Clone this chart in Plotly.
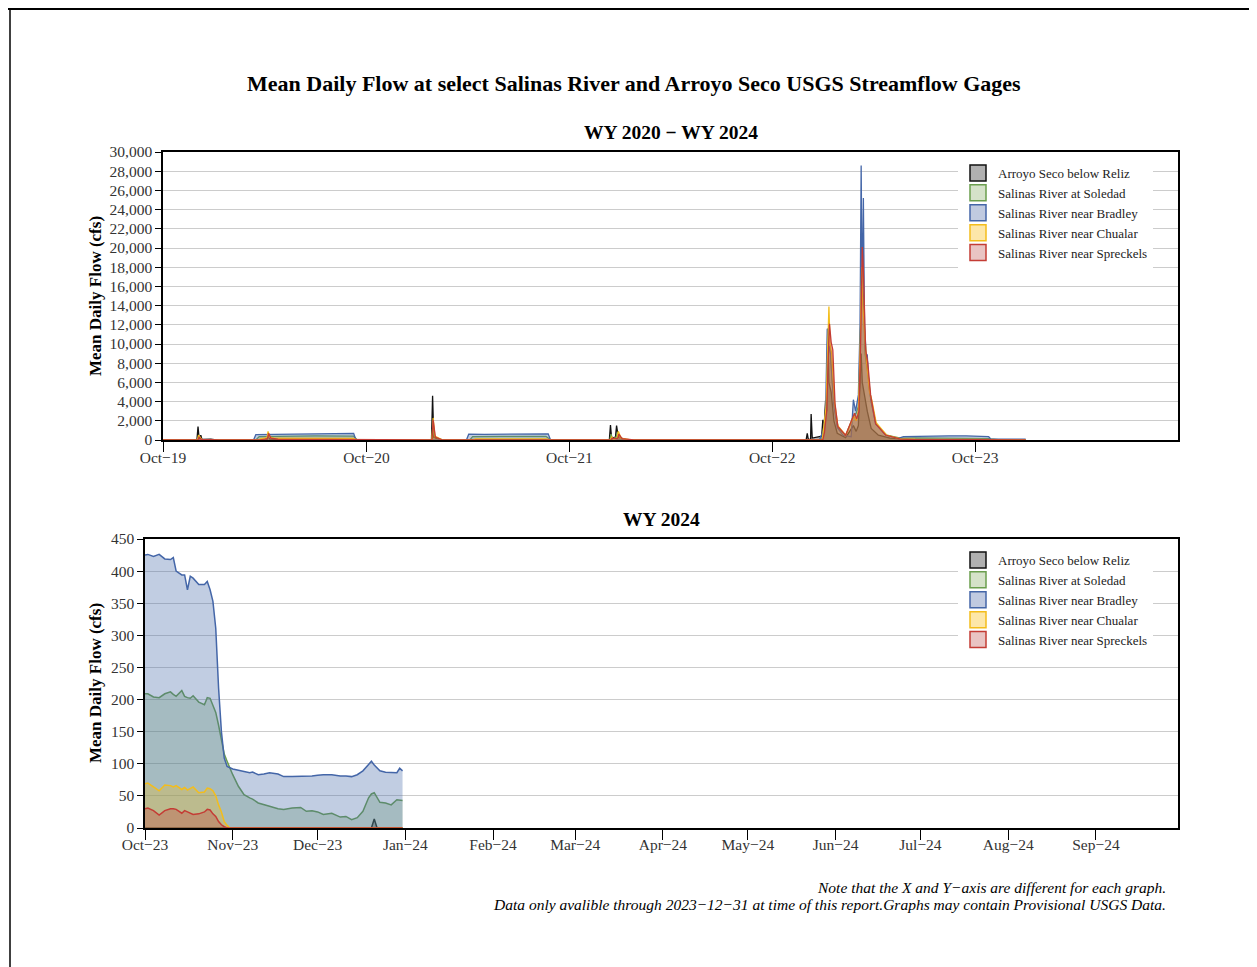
import plotly.graph_objects as go

# page is shown with the browser's 8px body margin, so the figure is 8px smaller
PAGE_W, PAGE_H = 1257, 967
OFFSET = 8
W, H = PAGE_W - OFFSET, PAGE_H - OFFSET

# ---- WY 2020 - WY 2023 (sparse readings, cfs) ----
ARROYO_DATES = ["2019-10-01", "2019-12-01", "2019-12-03", "2019-12-05", "2019-12-08", "2019-12-10",
                "2019-12-26", "2020-01-05", "2020-04-05", "2020-04-07", "2020-04-10", "2020-05-01",
                "2021-01-26", "2021-01-28", "2021-01-30", "2021-02-10", "2021-12-12", "2021-12-14",
                "2021-12-16", "2021-12-23", "2021-12-25", "2021-12-28", "2022-01-10", "2022-12-01",
                "2022-12-03", "2022-12-05", "2022-12-09", "2022-12-10", "2022-12-12", "2022-12-29",
                "2022-12-31", "2023-01-02", "2023-01-05", "2023-01-07", "2023-01-09", "2023-01-11",
                "2023-01-15", "2023-01-20", "2023-01-26", "2023-02-10", "2023-02-24", "2023-03-01",
                "2023-03-05", "2023-03-10", "2023-03-12", "2023-03-15", "2023-03-21", "2023-03-28",
                "2023-04-10", "2023-05-01", "2023-06-01", "2023-09-30"]
ARROYO_CFS = [0, 5, 1400, 150, 500, 60,
              100, 20, 20, 600, 100, 20,
              10, 4600, 300, 30, 20, 1550,
              200, 300, 1500, 300, 30, 5,
              700, 50, 100, 2700, 200, 400,
              2100, 1000, 4100, 3000, 11600, 6000,
              5000, 2000, 700, 250, 1500, 900,
              1500, 9000, 6000, 5000, 3000, 1200,
              500, 200, 80, 0]

SOLEDAD_DATES = ["2019-10-01", "2020-03-16", "2020-03-22", "2020-05-01", "2020-07-01", "2020-09-08",
                 "2020-09-14", "2021-01-26", "2021-01-28", "2021-01-31", "2021-02-15", "2021-04-05",
                 "2021-04-10", "2021-06-01", "2021-08-20", "2021-08-28", "2021-12-13", "2021-12-15",
                 "2021-12-18", "2021-12-24", "2021-12-27", "2021-12-31", "2022-01-15", "2022-12-29",
                 "2023-01-01", "2023-01-06", "2023-01-10", "2023-01-13", "2023-01-17", "2023-01-22",
                 "2023-01-28", "2023-02-10", "2023-02-24", "2023-03-01", "2023-03-05", "2023-03-11",
                 "2023-03-14", "2023-03-17", "2023-03-22", "2023-03-28", "2023-04-06", "2023-04-25",
                 "2023-05-20", "2023-06-15", "2023-08-15", "2023-09-30"]
SOLEDAD_CFS = [10, 10, 350, 380, 420, 400,
               20, 10, 1200, 300, 20, 20,
               350, 380, 380, 20, 10, 600,
               100, 300, 800, 150, 20, 20,
               800, 3000, 10000, 9500, 6000, 3000,
               1200, 450, 2500, 2800, 3500, 16000,
               15000, 9000, 7000, 4000, 1600, 500,
               200, 220, 210, 210]

BRADLEY_DATES = ["2019-10-01", "2020-03-12", "2020-03-16", "2020-04-01", "2020-05-15", "2020-06-15",
                 "2020-07-15", "2020-08-15", "2020-09-08", "2020-09-12", "2020-09-25", "2021-03-30",
                 "2021-04-03", "2021-05-01", "2021-06-01", "2021-07-01", "2021-08-01", "2021-08-24",
                 "2021-08-28", "2022-12-25", "2023-01-01", "2023-01-05", "2023-01-08", "2023-01-10",
                 "2023-01-13", "2023-01-16", "2023-01-20", "2023-01-26", "2023-02-05", "2023-02-20",
                 "2023-02-24", "2023-02-28", "2023-03-02", "2023-03-05", "2023-03-08", "2023-03-10",
                 "2023-03-12", "2023-03-14", "2023-03-16", "2023-03-19", "2023-03-21", "2023-03-24",
                 "2023-03-28", "2023-04-05", "2023-04-23", "2023-05-16", "2023-05-25", "2023-06-20",
                 "2023-07-15", "2023-08-15", "2023-09-15", "2023-09-30"]
BRADLEY_CFS = [15, 15, 550, 560, 600, 640,
               680, 700, 690, 40, 15, 15,
               600, 580, 600, 630, 650, 640,
               30, 20, 1000, 3000, 11600, 9000,
               9800, 7000, 3500, 1300, 500, 350,
               4200, 3000, 3600, 4700, 12000, 28600,
               14000, 25200, 12000, 9000, 8850, 5500,
               4000, 1700, 500, 170, 350, 400,
               430, 440, 440, 430]

CHUALAR_DATES = ["2019-10-01", "2019-12-02", "2019-12-04", "2019-12-07", "2019-12-10", "2020-01-10",
                 "2020-03-20", "2020-03-25", "2020-04-05", "2020-04-07", "2020-04-10", "2020-04-20",
                 "2020-09-08", "2020-09-14", "2021-01-27", "2021-01-29", "2021-02-01", "2021-02-15",
                 "2021-04-10", "2021-04-15", "2021-08-20", "2021-08-28", "2021-12-14", "2021-12-16",
                 "2021-12-20", "2021-12-26", "2021-12-28", "2022-01-02", "2022-01-20", "2022-12-30",
                 "2023-01-02", "2023-01-06", "2023-01-09", "2023-01-11", "2023-01-13", "2023-01-16",
                 "2023-01-21", "2023-01-27", "2023-02-10", "2023-02-25", "2023-03-01", "2023-03-05",
                 "2023-03-08", "2023-03-11", "2023-03-13", "2023-03-16", "2023-03-20", "2023-03-25",
                 "2023-03-29", "2023-04-06", "2023-04-25", "2023-05-20", "2023-06-15", "2023-09-30"]
CHUALAR_CFS = [0, 0, 500, 200, 30, 0,
               0, 150, 250, 900, 300, 180,
               170, 0, 0, 2300, 400, 0,
               0, 120, 120, 0, 0, 300,
               80, 200, 900, 200, 0, 0,
               1400, 3500, 10000, 13900, 10000, 9000,
               4000, 1500, 500, 2500, 2000, 3000,
               9000, 18000, 14000, 11000, 8000, 5000,
               4200, 1800, 500, 120, 80, 70]

SPRECKELS_DATES = ["2019-10-01", "2019-12-03", "2019-12-05", "2019-12-09", "2020-01-10", "2020-03-25",
                   "2020-04-01", "2020-04-06", "2020-04-08", "2020-04-12", "2020-04-25", "2020-09-08",
                   "2020-09-15", "2021-01-27", "2021-01-29", "2021-02-02", "2021-02-15", "2021-12-15",
                   "2021-12-17", "2021-12-27", "2021-12-29", "2022-01-04", "2022-01-25", "2022-12-31",
                   "2023-01-03", "2023-01-07", "2023-01-10", "2023-01-12", "2023-01-15", "2023-01-18",
                   "2023-01-22", "2023-01-27", "2023-02-10", "2023-02-26", "2023-03-02", "2023-03-06",
                   "2023-03-09", "2023-03-12", "2023-03-14", "2023-03-16", "2023-03-18", "2023-03-22",
                   "2023-03-27", "2023-04-05", "2023-04-23", "2023-05-20", "2023-06-15", "2023-09-30"]
SPRECKELS_CFS = [0, 0, 300, 50, 0, 0,
                 80, 150, 700, 200, 80, 60,
                 0, 0, 2100, 300, 0, 0,
                 200, 150, 600, 150, 0, 0,
                 800, 3000, 9000, 12100, 10200, 9400,
                 3800, 1400, 500, 2800, 2200, 3000,
                 10000, 20100, 17700, 12000, 9400, 8000,
                 4700, 1700, 520, 100, 40, 30]

# ---- WY 2024 (data through 2023-12-31, cfs) ----
WY24_DATES = ["2023-10-01", "2023-10-02", "2023-10-04", "2023-10-06", "2023-10-08", "2023-10-10",
              "2023-10-11", "2023-10-12", "2023-10-14", "2023-10-15", "2023-10-16", "2023-10-17",
              "2023-10-18", "2023-10-20", "2023-10-22", "2023-10-23", "2023-10-24", "2023-10-25",
              "2023-10-26", "2023-10-27", "2023-10-28", "2023-10-29", "2023-10-30", "2023-10-31",
              "2023-11-01", "2023-11-03", "2023-11-05", "2023-11-07", "2023-11-08", "2023-11-10",
              "2023-11-12", "2023-11-14", "2023-11-17", "2023-11-19", "2023-11-22", "2023-11-25",
              "2023-11-27", "2023-11-29", "2023-12-01", "2023-12-03", "2023-12-06", "2023-12-09",
              "2023-12-11", "2023-12-13", "2023-12-15", "2023-12-17", "2023-12-19", "2023-12-20",
              "2023-12-21", "2023-12-22", "2023-12-23", "2023-12-25", "2023-12-27", "2023-12-29",
              "2023-12-30", "2023-12-31"]
WY24_ARROYO = [0, 0, 0, 0, 0, 0, 0, 0, 0, 0, 0, 0, 0, 0, 0, 0, 0, 0, 0, 0, 0, 0, 0, 0,
               0, 0, 0, 0, 0, 0, 0, 0, 0, 0, 0, 0, 0, 0,
               0, 0, 0, 0, 0, 0, 0, 0, 0, 0, 14, 0, 0, 0, 0, 0, 0, 0]
WY24_SOLEDAD = [209, 209, 204, 203, 209, 212, 208, 205, 214, 205, 203, 202,
                206, 196, 192, 203, 202, 192, 180, 160, 135, 115, 104, 92,
                83, 65, 52, 47, 45, 39, 36, 34, 30, 29, 31, 32, 26, 27,
                25, 21, 23, 17, 18, 13, 16, 26, 47, 53, 55, 48, 40, 39, 36, 44, 43, 43]
WY24_BRADLEY = [425, 426, 423, 426, 419, 418, 421, 400, 394, 394, 371, 392,
                389, 379, 379, 384, 371, 353, 311, 218, 150, 109, 96, 94,
                92, 90, 88, 86, 87, 83, 84, 86, 84, 80, 80, 80, 80, 81,
                82, 83, 83, 81, 81, 80, 83, 89, 99, 104, 98, 93, 89, 87, 87, 86, 93, 89]
WY24_CHUALAR = [69, 70, 64, 58, 67, 66, 64, 66, 60, 63, 59, 61,
                64, 55, 56, 62, 61, 58, 50, 36, 25, 10, 4, 0,
                0, 0, 0, 0, 0, 0, 0, 0, 0, 0, 0, 0, 0, 0,
                0, 0, 0, 0, 0, 0, 0, 0, 0, 0, 0, 0, 0, 0, 0, 0, 0, 0]
WY24_SPRECKELS = [30, 31, 27, 20, 27, 30, 30, 29, 23, 27, 25, 23,
                  21, 22, 25, 29, 28, 22, 18, 10, 5, 2, 0, 0,
                  0, 0, 0, 0, 0, 0, 0, 0, 0, 0, 0, 0, 0, 0,
                  0, 0, 0, 0, 0, 0, 0, 0, 0, 0, 0, 0, 0, 0, 0, 0, 0, 0]

SERIF = "Liberation Serif, Times New Roman, serif"

# name, line colour, fill colour, legend swatch colour
STYLES = [
    ("Arroyo Seco below Reliz", "#111111", "rgba(0,0,0,0.30)", "#b0b0b0"),
    ("Salinas River at Soledad", "#6b9e4e", "rgba(107,158,78,0.28)", "#d5e2c9"),
    ("Salinas River near Bradley", "#4466a8", "rgba(68,102,168,0.33)", "#c0cae0"),
    ("Salinas River near Chualar", "#f3bd1c", "rgba(243,189,28,0.30)", "#fde7a9"),
    ("Salinas River near Spreckels", "#c43c35", "rgba(196,60,53,0.30)", "#e9c4c3"),
]


def px(x):
    # page pixel -> paper fraction
    return (x - OFFSET) / W


def py(y):
    return 1 - (y - OFFSET) / H


def series_data():
    top = [
        (ARROYO_DATES + WY24_DATES, ARROYO_CFS + WY24_ARROYO),
        (SOLEDAD_DATES + WY24_DATES, SOLEDAD_CFS + WY24_SOLEDAD),
        (BRADLEY_DATES + WY24_DATES, BRADLEY_CFS + WY24_BRADLEY),
        (CHUALAR_DATES + WY24_DATES, CHUALAR_CFS + WY24_CHUALAR),
        (SPRECKELS_DATES + WY24_DATES, SPRECKELS_CFS + WY24_SPRECKELS),
    ]
    bottom = [WY24_ARROYO, WY24_SOLEDAD, WY24_BRADLEY, WY24_CHUALAR, WY24_SPRECKELS]
    return top, bottom


def build_figure():
    fig = go.Figure()
    top, bottom = series_data()

    for (name, line, fill, swatch), (x, y), yb in zip(STYLES, top, bottom):
        fig.add_trace(go.Scatter(
            x=x, y=y, mode="lines", fill="tozeroy", fillcolor=fill,
            line=dict(color=line, width=1.3), showlegend=False, hoverinfo="skip",
            xaxis="x", yaxis="y"))
        fig.add_trace(go.Scatter(
            x=WY24_DATES, y=yb, mode="lines", fill="tozeroy", fillcolor=fill,
            line=dict(color=line, width=1.5), showlegend=False, hoverinfo="skip",
            xaxis="x2", yaxis="y2"))

    # legend swatches (square boxes like the original)
    for lg, xa, ya in (("legend", "x", "y"), ("legend2", "x2", "y2")):
        for name, line, fill, swatch in STYLES:
            fig.add_trace(go.Scatter(
                x=[None], y=[None], mode="markers", name=name, legend=lg,
                marker=dict(symbol="square", size=16, color=swatch,
                            line=dict(color=line, width=1.5)),
                xaxis=xa, yaxis=ya))

    axis_common = dict(
        showline=True, linecolor="black", linewidth=1.5, mirror=True,
        ticks="outside", tickcolor="black", tickwidth=1.3,
        tickfont=dict(family=SERIF, size=15.5, color="#333333"),
        automargin=False, zeroline=False,
    )
    legend_common = dict(xanchor="left", yanchor="top", bgcolor="white", borderwidth=0,
                         itemwidth=30, font=dict(family=SERIF, size=13, color="#222222"))
    fig.update_layout(
        xaxis=dict(domain=[px(163), px(1178)], anchor="y", type="date",
                   range=["2019-10-01", "2024-09-30"], tick0="2019-10-01", dtick="M12",
                   tickformat="%b\u2212%y", ticklen=10, ticklabelstandoff=-7,
                   showgrid=False, **axis_common),
        yaxis=dict(domain=[py(440), py(152)], anchor="x", range=[0, 30000], dtick=2000,
                   tickformat=",", ticklen=6, showgrid=True, gridcolor="#cccccc",
                   gridwidth=1, **axis_common),
        xaxis2=dict(domain=[px(145), px(1178)], anchor="y2", type="date",
                    range=["2023-10-01", "2024-09-30"], tick0="2023-10-01", dtick="M1",
                    tickformat="%b\u2212%y", ticklen=10, ticklabelstandoff=-8,
                    showgrid=False, **axis_common),
        yaxis2=dict(domain=[py(828), py(539)], anchor="x2", range=[0, 450], dtick=50,
                    ticklen=6, showgrid=True, gridcolor="#cccccc", gridwidth=1,
                    **axis_common),
        legend=dict(x=px(958), y=py(158), **legend_common),
        legend2=dict(x=px(958), y=py(545), **legend_common),
        width=W, height=H,
        margin=dict(l=0, r=0, t=0, b=0),
        paper_bgcolor="white", plot_bgcolor="white",
        hovermode=False,
        font=dict(family=SERIF, color="black"),
    )

    notes = [
        (px(634), py(83), "<b>Mean Daily Flow at select Salinas River and Arroyo Seco USGS Streamflow Gages</b>", 22, "center"),
        (px(671), py(132), "<b>WY 2020 \u2212 WY 2024</b>", 19.5, "center"),
        (px(661), py(519), "<b>WY 2024</b>", 19.5, "center"),
        (px(1168), py(887), "<i>Note that the X and Y\u2212axis are different for each graph.</i>", 15.5, "right"),
        (px(1168), py(904), "<i>Data only avalible through 2023\u221212\u221231 at time of this report.Graphs may contain Provisional USGS Data.</i>", 15.5, "right"),
    ]
    for x, y, text, size, anchor in notes:
        fig.add_annotation(x=x, y=y, xref="paper", yref="paper", text=text, showarrow=False,
                           xanchor=anchor, yanchor="middle",
                           font=dict(family=SERIF, size=size, color="black"))

    for y in (296, 683):
        fig.add_annotation(x=px(95), y=py(y), xref="paper", yref="paper", showarrow=False,
                           text="<b>Mean Daily Flow (cfs)</b>", textangle=-90,
                           xanchor="center", yanchor="middle",
                           font=dict(family=SERIF, size=17, color="black"))

    # page frame
    fig.add_shape(type="line", xref="paper", yref="paper", x0=0, x1=1, y0=py(9), y1=py(9),
                  line=dict(color="black", width=2))
    fig.add_shape(type="line", xref="paper", yref="paper", x0=px(10), x1=px(10), y0=py(8), y1=0,
                  line=dict(color="black", width=1.5))
    return fig


def main():
    fig = build_figure()
    fig.write_html("out.html")


if __name__ == "__main__":
    main()
